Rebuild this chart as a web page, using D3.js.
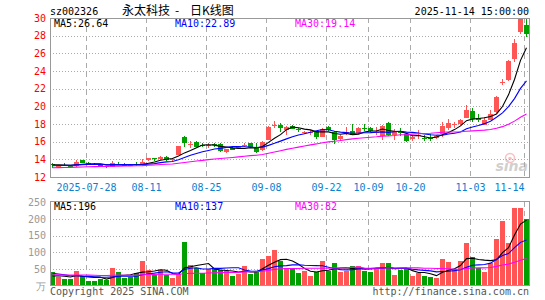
<!DOCTYPE html>
<html lang="zh">
<head>
<meta charset="UTF-8">
<script src="https://cdn.jsdelivr.net/npm/d3@7"></script>
<title>sz002326 日K线图</title>
<style>
    body { margin: 0; background: #fff; }
    svg { display: block; }
    text { font-family: "DejaVu Sans Mono", monospace; font-size: 10px; }
</style>
</head>
<body>
<div id="chart"></div>
<script>
    // ---- data ----
    const stockCode = "sz002326";
    const stockName = "永太科技";
    const stamp = "2025-11-14 15:00:00";

    const tickIdx = [6, 16, 26, 36, 46, 53, 60, 70, 79];
    const tickLabels = ["2025-07-28", "08-11", "08-25", "09-08", "09-22", "10-09", "10-20", "11-03", "11-14"];

    const openP = [13.50, 13.18, 13.40, 13.30, 13.22, 13.92, 13.62, 13.50, 13.35, 13.25,
                   13.18, 13.50, 13.42, 13.36, 13.45, 13.38, 13.88, 14.10, 14.02, 14.30,
                   13.90, 14.50, 16.55, 15.65, 16.00, 15.65, 15.58, 15.68, 15.74, 14.88,
                   15.30, 15.30, 15.55, 15.80, 15.32, 15.06, 16.20, 17.85, 17.90, 17.32,
                   17.72, 17.38, 17.05, 17.00, 17.18, 16.57, 17.70, 17.13, 16.28, 17.02,
                   17.21, 16.94, 17.55, 17.60, 17.08, 16.64, 18.15, 16.76, 17.10, 16.90,
                   16.26, 16.76, 16.42, 16.40, 16.38, 16.83, 17.58, 17.94, 17.96, 18.71,
                   19.47, 18.66, 17.92, 18.50, 19.40, 22.70, 22.98, 25.36, 28.38, 29.20];
    const highP = [13.62, 13.30, 13.55, 13.38, 13.95, 13.95, 13.68, 13.55, 13.42, 13.28,
                   13.82, 13.72, 13.55, 13.42, 13.75, 14.00, 14.20, 14.20, 14.40, 14.40,
                   14.15, 15.55, 16.62, 16.10, 16.05, 15.80, 15.85, 15.80, 15.80, 15.20,
                   15.38, 15.42, 15.90, 15.85, 15.88, 16.05, 17.72, 18.30, 18.08, 17.75,
                   17.90, 17.55, 17.20, 17.30, 17.25, 17.55, 17.75, 17.20, 16.75, 17.61,
                   18.00, 17.65, 18.00, 17.65, 17.62, 17.90, 18.20, 17.45, 17.50, 16.95,
                   16.70, 17.30, 16.80, 16.85, 16.75, 18.25, 18.62, 18.26, 18.62, 20.20,
                   19.77, 19.10, 18.83, 19.58, 21.20, 23.15, 25.25, 27.62, 29.96, 29.96];
    const lowP = [13.05, 13.10, 13.20, 13.15, 13.15, 13.55, 13.45, 13.35, 13.18, 13.00,
                  13.12, 13.35, 13.25, 13.22, 13.30, 13.30, 13.80, 13.85, 13.95, 13.85,
                  13.85, 14.45, 15.40, 15.25, 15.30, 15.35, 15.30, 15.45, 14.80, 14.75,
                  15.05, 15.20, 15.35, 15.40, 14.70, 14.95, 16.15, 17.55, 17.15, 16.75,
                  17.40, 17.10, 16.90, 16.75, 16.28, 16.50, 17.25, 15.70, 16.10, 16.75,
                  16.70, 16.90, 17.25, 17.15, 16.72, 16.18, 16.65, 16.20, 16.60, 16.00,
                  16.05, 16.30, 16.05, 16.05, 16.30, 16.57, 17.32, 17.54, 17.84, 18.64,
                  18.26, 18.19, 17.88, 18.40, 19.30, 22.41, 22.90, 25.06, 28.20, 27.90];
    const closeP = [13.40, 13.24, 13.36, 13.22, 13.72, 13.60, 13.50, 13.42, 13.22, 13.15,
                    13.60, 13.42, 13.30, 13.30, 13.38, 13.68, 14.10, 14.02, 14.32, 13.95,
                    14.08, 15.50, 15.80, 15.72, 15.45, 15.60, 15.66, 15.63, 15.00, 15.12,
                    15.10, 15.35, 15.60, 15.45, 14.88, 16.00, 17.68, 17.92, 17.50, 17.69,
                    17.45, 17.34, 17.12, 17.08, 16.57, 17.45, 17.32, 16.19, 16.64, 17.08,
                    16.72, 17.55, 17.50, 17.18, 17.12, 17.82, 16.72, 17.05, 17.05, 16.05,
                    16.50, 16.80, 16.38, 16.36, 16.62, 17.72, 18.15, 17.98, 18.45, 19.58,
                    18.62, 18.50, 18.42, 19.12, 21.04, 22.79, 25.13, 27.12, 29.96, 28.20];
    // volume, 万手
    const vol = [43, 27, 21, 20, 46, 31, 16, 16, 21, 19,
                 55, 43, 23, 28, 40, 73, 48, 34, 47, 33,
                 25, 35, 130, 63, 53, 38, 50, 50, 47, 46,
                 31, 35, 61, 35, 46, 79, 88, 106, 73, 53,
                 53, 38, 45, 31, 41, 73, 45, 67, 41, 45,
                 61, 60, 46, 42, 53, 69, 67, 32, 47, 52,
                 31, 40, 31, 27, 25, 81, 71, 52, 75, 128,
                 86, 54, 42, 67, 141, 192, 127, 231, 231, 199];

    // sessions before the visible window (only feed the moving averages)
    const prevClose = [12.85, 12.90, 12.88, 12.95, 13.00, 12.92, 12.86, 12.90, 12.98, 13.02,
                       12.96, 12.90, 12.94, 13.00, 12.98, 12.92, 12.95, 13.00, 12.96, 12.93,
                       13.10, 13.15, 13.22, 13.18, 13.25, 13.30, 13.42, 13.38, 13.40];
    const prevVol = [28, 32, 30, 35, 27, 31, 29, 33, 30, 28,
                     34, 31, 29, 32, 30, 27, 33, 31, 30, 30,
                     52, 44, 48, 40, 46, 25, 28, 30, 24];

    const priceTicks = [12, 14, 16, 18, 20, 22, 24, 26, 28, 30];
    const volTicks = [0, 50, 100, 150, 200, 250];

    // ---- layout ----
    const W = 545, H = 300;
    const left = 50, right = 529;
    const pTop = 18, pBot = 177;
    const vTop = 202, vBot = 286;
    const RED = "#ff5555", GREEN = "#00a000";

    const svg = d3.select("#chart").append("svg")
        .attr("width", W)
        .attr("height", H);

    svg.append("rect").attr("width", W).attr("height", H).attr("fill", "#fff");

    const x = d3.scaleLinear().domain([0, 80]).range([50, 530]);
    const yP = d3.scaleLinear().domain([12, 30]).range([pBot, pTop]);
    const yV = d3.scaleLinear().domain([0, 250]).range([vBot, vTop]);

    const movingAvg = (prev, cur, n) => {
        const all = prev.concat(cur);
        return cur.map((d, i) => {
            const end = prev.length + i + 1;
            return d3.mean(all.slice(end - n, end));
        });
    };

    const ma5 = movingAvg(prevClose, closeP, 5);
    const ma10 = movingAvg(prevClose, closeP, 10);
    const ma30 = movingAvg(prevClose, closeP, 30);
    const vma5 = movingAvg(prevVol, vol, 5);
    const vma10 = movingAvg(prevVol, vol, 10);
    const vma30 = movingAvg(prevVol, vol, 30);

    const defs = svg.append("defs");
    defs.append("clipPath").attr("id", "clipP").append("rect")
        .attr("x", left).attr("y", pTop).attr("width", right - left).attr("height", pBot - pTop);
    defs.append("clipPath").attr("id", "clipV").append("rect")
        .attr("x", left).attr("y", vTop).attr("width", right - left).attr("height", vBot - vTop);

    // grid
    const grid = svg.append("g")
        .attr("stroke", "#aaa")
        .attr("shape-rendering", "crispEdges");

    grid.selectAll(".hp")
        .data(priceTicks.filter(d => d > 12 && d < 30))
        .join("line")
        .attr("x1", left).attr("x2", right)
        .attr("y1", d => Math.round(yP(d)) + 0.5)
        .attr("y2", d => Math.round(yP(d)) + 0.5)
        .attr("stroke-dasharray", "1,2");

    grid.selectAll(".hv")
        .data(volTicks.filter(d => d > 0 && d < 250))
        .join("line")
        .attr("class", "hv")
        .attr("x1", left).attr("x2", right)
        .attr("y1", d => Math.round(yV(d)) + 0.5)
        .attr("y2", d => Math.round(yV(d)) + 0.5)
        .attr("stroke-dasharray", "1,2");

    [[pTop, pBot], [vTop, vBot]].forEach(([t, b]) => {
        grid.append("g").selectAll("line")
            .data(tickIdx)
            .join("line")
            .attr("x1", d => x(d) + 0.5).attr("x2", d => x(d) + 0.5)
            .attr("y1", t).attr("y2", b)
            .attr("stroke-dasharray", "5,4");
    });

    // candles
    const candles = svg.append("g")
        .attr("clip-path", "url(#clipP)")
        .attr("shape-rendering", "crispEdges");

    const up = i => closeP[i] >= openP[i];
    const idx = d3.range(closeP.length);

    candles.selectAll("line")
        .data(idx)
        .join("line")
        .attr("x1", i => x(i) + 2.5).attr("x2", i => x(i) + 2.5)
        .attr("y1", i => yP(highP[i])).attr("y2", i => yP(lowP[i]))
        .attr("stroke", i => up(i) ? RED : GREEN);

    candles.selectAll("rect")
        .data(idx)
        .join("rect")
        .attr("x", i => x(i))
        .attr("width", 5)
        .attr("y", i => yP(Math.max(openP[i], closeP[i])))
        .attr("height", i => Math.max(1, Math.abs(yP(openP[i]) - yP(closeP[i]))))
        .attr("fill", i => up(i) ? RED : GREEN);

    // volume bars
    svg.append("g")
        .attr("clip-path", "url(#clipV)")
        .attr("shape-rendering", "crispEdges")
        .selectAll("rect")
        .data(idx)
        .join("rect")
        .attr("x", i => x(i))
        .attr("width", 5)
        .attr("y", i => yV(vol[i]))
        .attr("height", i => vBot - yV(vol[i]))
        .attr("fill", i => up(i) ? RED : GREEN);

    // moving average lines
    const lineP = d3.line().x((d, i) => x(i) + 2.5).y(d => yP(d));
    const lineV = d3.line().x((d, i) => x(i) + 2.5).y(d => yV(d));
    const maColors = ["#000000", "#0000ff", "#ff00ff"];

    const gMaP = svg.append("g").attr("clip-path", "url(#clipP)").attr("fill", "none");
    [ma5, ma10, ma30].forEach((s, k) => {
        gMaP.append("path").attr("d", lineP(s)).attr("stroke", maColors[k]).attr("stroke-width", 1.1);
    });
    const gMaV = svg.append("g").attr("clip-path", "url(#clipV)").attr("fill", "none");
    [vma5, vma10, vma30].forEach((s, k) => {
        gMaV.append("path").attr("d", lineV(s)).attr("stroke", maColors[k]).attr("stroke-width", 1.1);
    });

    // frames
    svg.append("rect")
        .attr("x", left + 0.5).attr("y", pTop + 0.5)
        .attr("width", right - left).attr("height", pBot - pTop)
        .attr("fill", "none").attr("stroke", "#999").attr("shape-rendering", "crispEdges");
    svg.append("rect")
        .attr("x", left + 0.5).attr("y", vTop - 0.5)
        .attr("width", right - left).attr("height", vBot - vTop)
        .attr("fill", "none").attr("stroke", "#999").attr("shape-rendering", "crispEdges");

    // axes
    const axP = svg.append("g")
        .attr("transform", `translate(${left},0)`)
        .call(d3.axisLeft(yP).tickValues(priceTicks).tickSize(0).tickPadding(4));
    axP.select(".domain").remove();
    axP.attr("font-family", "DejaVu Sans Mono").attr("font-size", 10);
    axP.selectAll("text").attr("fill", "#ff0000");

    const axV = svg.append("g")
        .attr("transform", `translate(${left},0)`)
        .call(d3.axisLeft(yV).tickValues(volTicks).tickSize(0).tickPadding(4)
            .tickFormat(d => d === 0 ? "万" : d));
    axV.select(".domain").remove();
    axV.attr("font-family", "DejaVu Sans Mono").attr("font-size", 10);
    axV.selectAll("text").attr("fill", "#999");

    const axX = svg.append("g")
        .attr("transform", `translate(0,${pBot})`)
        .call(d3.axisBottom(x).tickValues(tickIdx).tickSize(0).tickPadding(6.5)
            .tickFormat((d, k) => tickLabels[k]));
    axX.select(".domain").remove();
    axX.attr("font-family", "DejaVu Sans Mono").attr("font-size", 10);
    axX.selectAll("text").attr("fill", "#0a80d0")
        .attr("text-anchor", (d, k) => k === tickIdx.length - 1 ? "end" : "middle");

    // headings
    svg.append("text").attr("x", 50).attr("y", 15).text(stockCode);
    svg.append("text").attr("x", 122).attr("y", 15)
        .style("font-family", "'Noto Sans CJK SC'").style("font-size", "12px")
        .text(stockName);
    svg.append("text").attr("x", 177).attr("y", 15).attr("text-anchor", "middle")
        .style("font-family", "'Noto Sans CJK SC'").style("font-size", "12px")
        .text("-");
    svg.append("text").attr("x", 190).attr("y", 15)
        .style("font-family", "'Noto Sans CJK SC'").style("font-size", "12px")
        .text("日K线图");
    svg.append("text").attr("x", 529).attr("y", 15).attr("text-anchor", "end").text(stamp);

    const last = closeP.length - 1;
    const maLabelX = [54, 175, 295];
    [["MA5:", ma5], ["MA10:", ma10], ["MA30:", ma30]].forEach(([name, s], k) => {
        svg.append("text").attr("x", maLabelX[k]).attr("y", 27)
            .attr("fill", maColors[k])
            .text(name + s[last].toFixed(2));
    });
    [["MA5:", vma5], ["MA10:", vma10], ["MA30:", vma30]].forEach(([name, s], k) => {
        svg.append("text").attr("x", maLabelX[k]).attr("y", 210)
            .attr("fill", maColors[k])
            .text(name + Math.round(s[last]));
    });

    // sina watermark
    const wm = svg.append("g").attr("opacity", 0.55);
    wm.append("circle").attr("cx", 510).attr("cy", 158).attr("r", 4.5)
        .attr("fill", "none").attr("stroke", "#f09090").attr("stroke-width", 1.5);
    wm.append("circle").attr("cx", 510).attr("cy", 158.5).attr("r", 1.8).attr("fill", "#f09090");
    wm.append("text").attr("x", 528).attr("y", 171).attr("text-anchor", "end")
        .style("font-family", "'DejaVu Sans'").style("font-size", "14px")
        .style("font-style", "italic").style("font-weight", "bold")
        .attr("fill", "#aaa").text("sina");

    // footer
    svg.append("text").attr("x", 50).attr("y", 295).attr("fill", "#555")
        .text("Copyright 2025 SINA.COM");
    svg.append("text").attr("x", 529).attr("y", 295).attr("text-anchor", "end").attr("fill", "#555")
        .text("http://finance.sina.com.cn");
</script>
</body>
</html>
